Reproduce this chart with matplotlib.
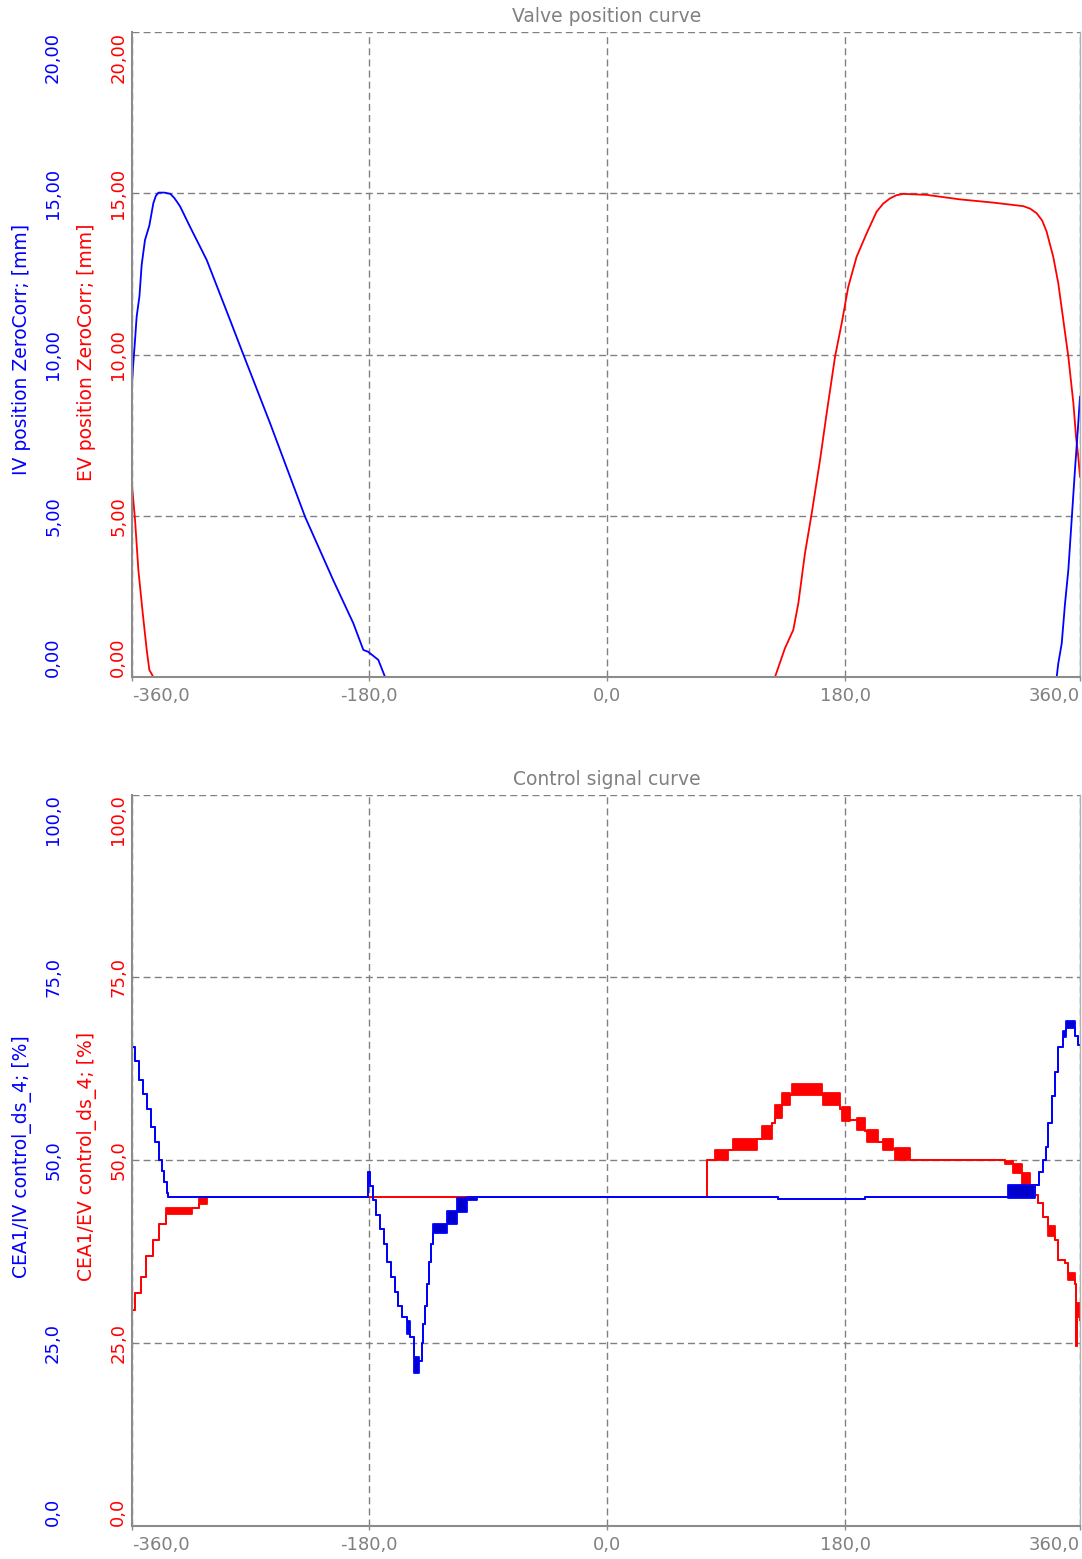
import numpy as np
import matplotlib
matplotlib.use("Agg")
import matplotlib.pyplot as plt

# ---- valve lift (top panel), crank angle in deg, lift in mm ----
iv_pos_x = [-358.3, -357.8, -356.2, -355.0, -352.9, -351.2, -348.7, -345.4, -342.4, -340.5,
            -338.5, -334.0, -329.5, -326.5, -322.3, -314.7, -302.1, -284.5, -275.7, -254.3,
            -227.9, -206.6, -191.5, -183.9, -180.2, -172.6, -167.5, 339.4, 340.6, 343.2,
            345.7, 348.2, 350.7, 353.2, 355.7, 357.0]
iv_pos_y = [9.2, 9.57, 10.45, 11.17, 11.8, 12.78, 13.55, 14.0, 14.69, 14.92,
            15.02, 15.02, 14.98, 14.85, 14.6, 13.96, 12.93, 11.07, 10.13, 7.87,
            4.97, 3.0, 1.67, 0.84, 0.78, 0.53, 0.0, 0.0, 0.42, 1.04,
            2.28, 3.32, 4.87, 6.42, 7.87, 8.69]

ev_pos_x = [-358.3, -356.2, -353.7, -350.4, -347.4, -345.4, -342.4, 126.8, 134.3, 140.6,
            144.4, 149.4, 154.5, 160.8, 165.8, 172.1, 177.1, 182.1, 188.4, 196.0,
            203.5, 208.5, 213.6, 218.5, 223.6, 241.3, 266.4, 291.5, 314.2, 319.5,
            324.3, 328.5, 331.8, 336.8, 340.6, 344.4, 348.2, 352.0, 354.0, 355.7,
            357.0]
ev_pos_y = [5.85, 4.87, 3.32, 1.98, 0.84, 0.22, 0.0, 0.0, 0.89, 1.46,
            2.28, 3.83, 5.07, 6.73, 8.18, 9.93, 10.96, 12.1, 13.03, 13.76,
            14.43, 14.68, 14.84, 14.94, 14.98, 14.95, 14.81, 14.71, 14.6, 14.52,
            14.38, 14.15, 13.81, 13.03, 12.21, 11.07, 9.93, 8.49, 7.45, 6.83,
            6.21]

# ---- control signal (bottom panel), step data: start angle, low, high [%] ----
iv_ctl_x = [-358.5, -356, -353, -350, -347, -344, -341, -338, -336, -334, -332, -331,
            -180.5, -178.5, -176.5, -174, -171, -168.5, -166, -163, -160, -157.5, -155,
            -151, -148.5, -146, -142, -140, -139, -137.5, -135.5, -134, -132.5, -131,
            -121, -113.5, -106, -98, 129.3, 194.7, 302.6, 323, 326, 329, 331.5, 333,
            335.5, 338, 340.5, 344, 346.5, 353, 355.5, 357]
iv_ctl_lo = [65.5, 63.5, 61, 59, 57, 54.5, 52.5, 50, 48.5, 47, 45.5, 44.9,
             48.3, 46.5, 44.5, 42.5, 40.5, 38.5, 36, 34, 32, 30, 28.5,
             26.2, 25.8, 20.8, 22.5, 25, 27.5, 30, 33, 36, 38.5, 40.0,
             41.3, 42.9, 44.5, 44.9, 44.6, 44.9, 44.8, 46.6, 48.4, 50, 51.8, 55,
             58.7, 62.1, 65.5, 66.8, 68.0, 66.9, 65.7, 65.7]
iv_ctl_hi = [65.5, 63.5, 61, 59, 57, 54.5, 52.5, 50, 48.5, 47, 45.5, 44.9,
             48.3, 46.5, 44.5, 42.5, 40.5, 38.5, 36, 34, 32, 30, 28.5,
             28.0, 25.8, 23.0, 22.5, 25, 27.5, 30, 33, 36, 38.5, 41.2,
             43.0, 44.8, 45.0, 44.9, 44.6, 44.9, 46.6, 46.6, 48.4, 50, 51.8, 55,
             58.7, 62.1, 65.5, 67.6, 69.0, 66.9, 65.7, 65.7]

ev_ctl_x = [-358.5, -356, -352, -348, -343, -338, -333, -313, -308, -302,
            75.7, 81.5, 91.6, 95.3, 113, 116.8, 124.3, 126.8, 131.8, 138.1,
            139.4, 162, 163.3, 175.8, 177.1, 183.4, 188.4, 194.7, 196, 204.8,
            208.5, 216.1, 217.4, 228.7, 300.4, 306.4, 313.2, 319.2, 323, 325.5,
            329.3, 333.1, 338.1, 340.6, 345.7, 348.2, 353.2, 354, 355, 357]
ev_ctl_lo = [29.5, 31.8, 34.0, 36.8, 39.1, 41.3, 42.6, 43.4, 44.0, 44.9,
             50.0, 50.0, 51.4, 51.4, 52.9, 52.9, 55.0, 55.7, 57.5, 58.9,
             58.9, 59.0, 57.5, 57.0, 55.4, 55.5, 54.1, 54.0, 52.5, 52.5,
             51.4, 51.5, 50.0, 50.0, 49.5, 48.2, 46.6, 46.6, 45.2, 44.1,
             42.2, 39.6, 39.1, 36.3, 35.9, 33.6, 33.1, 24.5, 28.5, 28.1]
ev_ctl_hi = [29.5, 31.8, 34.0, 36.8, 39.1, 41.3, 43.5, 43.4, 45.0, 44.9,
             50.0, 51.4, 51.4, 52.9, 52.9, 54.6, 55.0, 57.5, 59.1, 58.9,
             60.4, 59.0, 59.1, 57.0, 57.2, 55.5, 55.7, 54.0, 54.1, 52.5,
             52.9, 51.5, 51.6, 50.0, 49.8, 49.5, 48.2, 46.6, 45.2, 44.1,
             42.2, 41.0, 39.1, 36.3, 35.9, 34.5, 33.1, 24.5, 30.5, 28.1]

x_ticks = [-358.5, -180, 0, 180, 357]
x_tick_labels = ["-360,0", "-180,0", "0,0", "180,0", "360,0"]
pos_ticks = [0, 5, 10, 15, 20]
pos_tick_labels = ["0,00", "5,00", "10,00", "15,00", "20,00"]
ctl_ticks = [0, 25, 50, 75, 100]
ctl_tick_labels = ["0,0", "25,0", "50,0", "75,0", "100,0"]

BLUE = "#0000ff"
RED = "#ff0000"
GREY = "#808080"
W, H = 1082, 1559
FS = 13

plt.rcParams["font.family"] = ["DejaVu Sans"]

fig = plt.figure(figsize=(W / 100, H / 100), dpi=100)
fig.patch.set_facecolor("white")


def style_axes(ax, yticks, ylabels, ylim):
    ax.set_xlim(x_ticks[0], x_ticks[-1])
    ax.set_ylim(*ylim)
    for s in ["left", "bottom"]:
        ax.spines[s].set_color("#8c8c8c")
        ax.spines[s].set_linewidth(1.5)
    ax.spines["right"].set_color("#b0b0b0")
    ax.spines["right"].set_linewidth(1)
    ax.spines["top"].set_visible(False)
    ax.grid(True, color=GREY, lw=1.0, ls=(0, (5, 3)))
    ax.set_axisbelow(True)

    ax.set_xticks(x_ticks, x_tick_labels)
    ax.tick_params(axis="x", length=3, width=1, color="#8c8c8c", pad=4.5,
                   labelsize=FS, labelcolor=GREY)
    xl = ax.get_xticklabels()
    xl[0].set_ha("left")
    xl[-1].set_ha("right")

    ax.set_yticks(yticks, ylabels)
    ax.tick_params(axis="y", length=0, pad=3.5, labelsize=FS, labelcolor=RED,
                   labelrotation=90)
    yl = ax.get_yticklabels()
    for t in yl:
        t.set_va("center")
    yl[0].set_va("bottom")
    yl[-1].set_va("top")

    # outer (blue) axis, same scale
    sec = ax.secondary_yaxis(-0.0686)
    sec.spines["left"].set_visible(False)
    sec.set_yticks(yticks, ylabels)
    sec.tick_params(axis="y", length=0, pad=3.5, labelsize=FS, labelcolor=BLUE,
                    labelrotation=90)
    sl = sec.get_yticklabels()
    for t in sl:
        t.set_va("center")
    sl[0].set_va("bottom")
    sl[-1].set_va("top")


# ---- top panel ----
ax1 = fig.add_axes([132 / W, 1 - 677 / H, 948 / W, 645 / H])
ax1.plot(ev_pos_x, ev_pos_y, color=RED, lw=1.3)
ax1.plot(iv_pos_x, iv_pos_y, color=BLUE, lw=1.3)
ax1.plot([x_ticks[0], x_ticks[-1]], [0, 0], color=BLUE, lw=1.3, zorder=1.5)
ax1.plot([-358.5, 126.8], [0, 0], color=RED, lw=1.3, zorder=1.8)
style_axes(ax1, pos_ticks, pos_tick_labels, (0, 20))

# ---- bottom panel ----
ax2 = fig.add_axes([132 / W, 1 - 1525.5 / H, 948 / W, 731 / H])
ax2.fill_between(ev_ctl_x, ev_ctl_lo, ev_ctl_hi, step="post", color=RED, lw=0)
ax2.step(ev_ctl_x, ev_ctl_lo, where="post", color=RED, lw=1.3)
ax2.step(ev_ctl_x, ev_ctl_hi, where="post", color=RED, lw=1.3)
ax2.fill_between(iv_ctl_x, iv_ctl_lo, iv_ctl_hi, step="post", color="#0000cc", lw=0)
ax2.step(iv_ctl_x, iv_ctl_lo, where="post", color=BLUE, lw=1.3)
ax2.step(iv_ctl_x, iv_ctl_hi, where="post", color=BLUE, lw=1.3)
style_axes(ax2, ctl_ticks, ctl_tick_labels, (0, 100))

# ---- titles and axis names ----
fig.text(607 / W, 1 - 17 / H, "Valve position curve", ha="center", va="center",
         fontsize=13.5, color=GREY)
fig.text(607 / W, 1 - 780 / H, "Control signal curve", ha="center", va="center",
         fontsize=13.5, color=GREY)
fig.text(22 / W, 1 - 349 / H, "IV position ZeroCorr; [mm]", rotation=90,
         ha="center", va="center", fontsize=13.5, color=BLUE)
fig.text(87 / W, 1 - 352 / H, "EV position ZeroCorr; [mm]", rotation=90,
         ha="center", va="center", fontsize=13.5, color=RED)
fig.text(22 / W, 1 - 1157 / H, "CEA1/IV control_ds_4; [%]", rotation=90,
         ha="center", va="center", fontsize=13.5, color=BLUE)
fig.text(87 / W, 1 - 1156 / H, "CEA1/EV control_ds_4; [%]", rotation=90,
         ha="center", va="center", fontsize=13.5, color=RED)

fig.savefig("out.png", dpi=100)
